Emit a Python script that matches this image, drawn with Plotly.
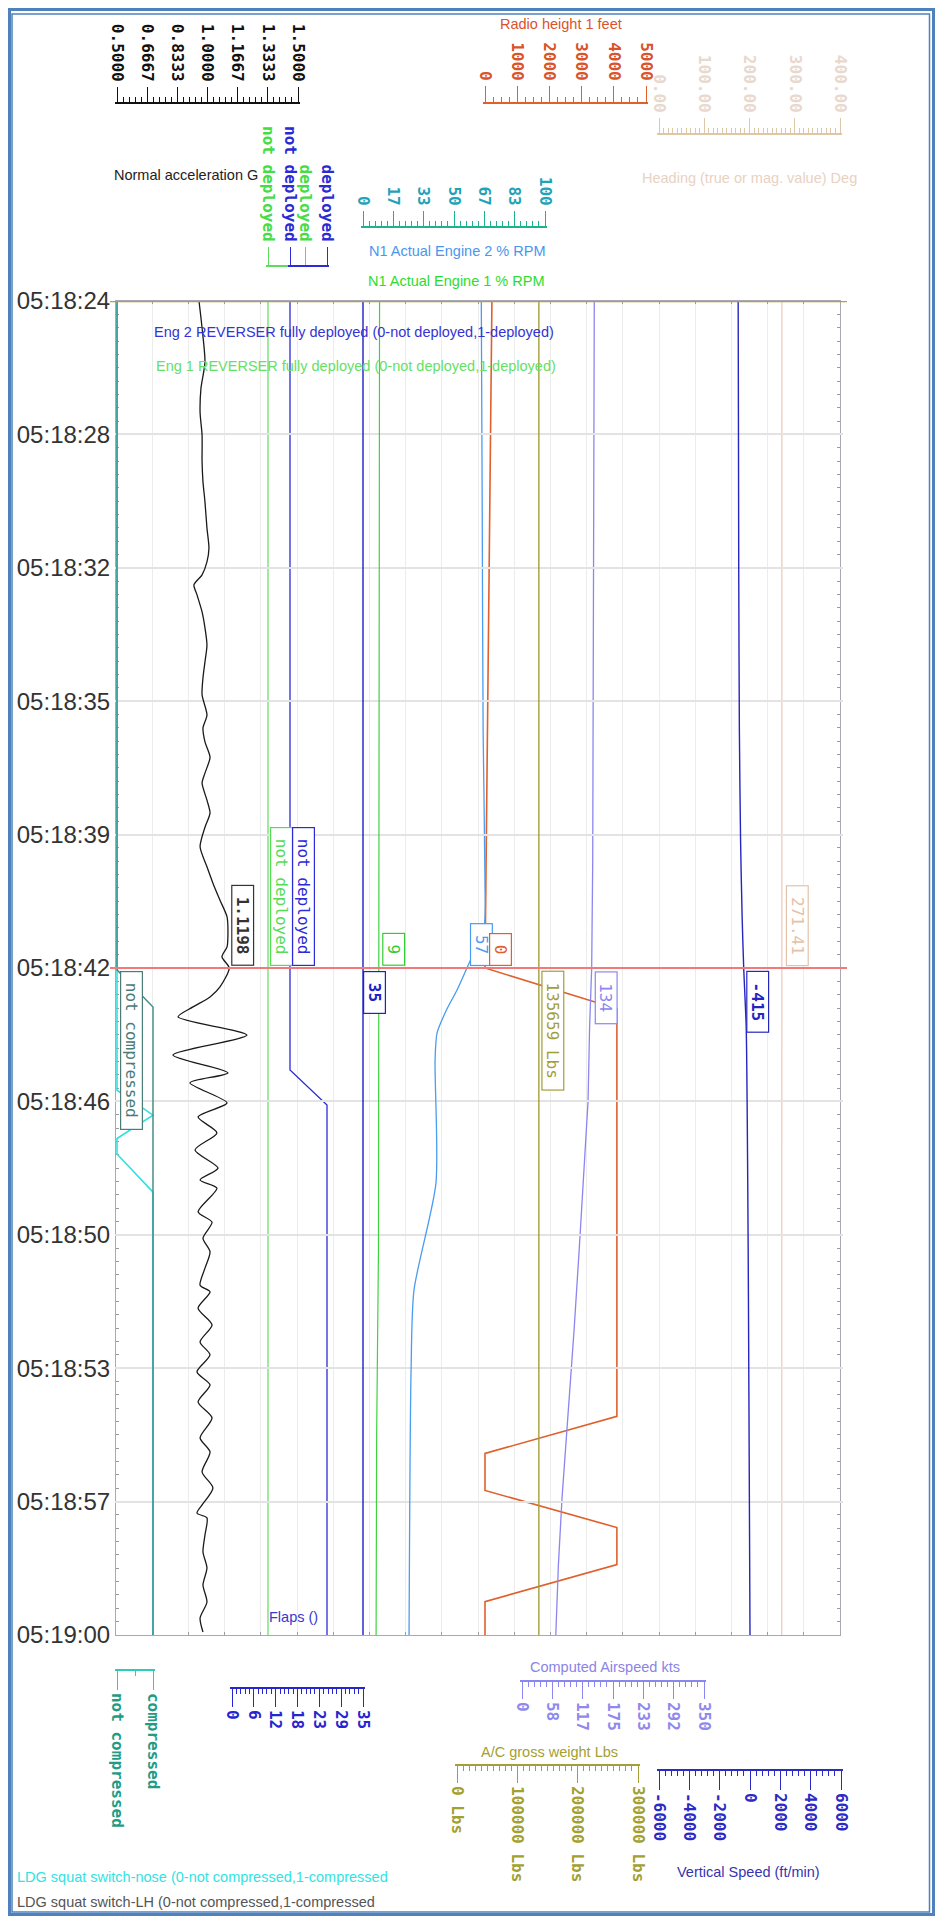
import numpy as np
import plotly.graph_objects as go

# page body keeps its 8px margin, so the figure is sized to fit the window exactly
OFF = 8
FW, FH = 943 - 2 * OFF, 1924 - 2 * OFF


def sx(x):
    return (x - OFF) / FW


def sy(y):
    return 1 - (y - OFF) / FH


# time is in seconds after 05:18:00
time_ticks = [24.4, 28.0, 31.6, 35.2, 38.8, 42.4, 46.0, 49.6, 53.2, 56.8, 60.4]
time_labels = ["05:18:24", "05:18:28", "05:18:32", "05:18:35", "05:18:39", "05:18:42",
               "05:18:46", "05:18:50", "05:18:53", "05:18:57", "05:19:00"]
cursor_times = [24.4, 42.4]

# Normal acceleration G
g_t = [24.40, 25.13, 26.05, 26.75, 27.40, 28.02, 28.74, 29.28, 29.82, 30.53, 31.07, 31.44,
       31.79, 32.06, 32.33, 32.79, 33.22, 33.68, 34.14, 34.57, 35.03, 35.57, 35.92, 36.30,
       36.71, 37.14, 37.41, 37.87, 38.22, 38.60, 39.13, 39.67, 40.11, 40.57, 41.02, 41.46,
       41.83, 42.10, 42.40, 42.91, 43.18, 43.45, 43.72, 44.21, 44.75, 45.23, 45.50, 46.04,
       46.42, 46.85, 47.31, 47.80, 48.12, 48.34, 48.98, 49.26, 49.69, 50.06, 50.50, 50.96,
       51.14, 51.58, 52.03, 52.49, 52.84, 53.30, 53.65, 54.11, 54.54, 55.08, 55.46, 56.00,
       56.43, 56.89, 57.11, 57.24, 57.70, 58.16, 58.59, 59.05, 59.51, 59.94, 60.32]
g_val = [0.953, 0.970, 0.986, 0.964, 0.959, 0.970, 0.970, 0.975, 0.986, 0.997, 1.008, 0.997,
         0.970, 0.925, 0.942, 0.970, 0.986, 0.997, 0.986, 0.975, 0.970, 0.997, 0.975, 0.986,
         1.014, 0.986, 0.970, 0.997, 1.014, 0.986, 0.959, 0.997, 1.030, 1.069, 1.108, 1.113,
         1.108, 1.080, 1.1198, 1.069, 1.014, 0.920, 0.837, 1.218, 0.809, 1.113, 0.903, 1.108,
         0.948, 1.052, 0.931, 1.058, 0.959, 1.052, 0.948, 1.025, 0.975, 1.014, 0.986, 0.959,
         1.014, 0.948, 1.025, 0.959, 1.014, 0.942, 1.014, 0.948, 1.025, 0.959, 1.014, 0.970,
         1.030, 0.970, 0.942, 0.997, 0.986, 0.975, 0.997, 0.975, 0.997, 0.959, 0.975]

# Radio height 1 (ft)
ra_t = [24.4, 27.0, 30.0, 33.0, 36.0, 39.0, 41.0, 42.4, 43.5, 54.5, 55.5, 56.5, 57.5, 58.5, 59.5, 60.4]
ra_val = [215, 185, 150, 115, 80, 40, 15, 0, 4096, 4096, 0, 0, 4096, 4096, 0, 0]

# Heading (deg)
hdg_t = [24.4, 42.4, 60.4]
hdg_val = [271.6, 271.41, 271.3]

# N1 engines (%)
n1e2_t = [24.4, 30.0, 36.0, 40.0, 41.3, 42.4, 43.0, 43.5, 44.15, 44.9, 48.2, 51.1, 53.3, 60.4]
n1e2_val = [65.0, 65.5, 66.0, 67.0, 66.5, 57.1, 51.6, 46.2, 40.7, 39.6, 40.1, 28.0, 26.4, 25.3]
n1e1_t = [24.4, 42.4, 50.0, 55.0, 60.4]
n1e1_val = [9.1, 8.9, 8.5, 7.5, 7.2]

# Reversers (0 not deployed, 1 deployed)
rev1_t = [24.4, 60.4]
rev1_val = [0, 0]
rev2_t = [24.4, 45.15, 46.1, 60.4]
rev2_val = [0, 0, 1, 1]

# Flaps
flaps_t = [24.4, 60.4]
flaps_val = [35, 35]

# Computed airspeed (kts)
cas_t = [24.4, 33.0, 39.5, 42.4, 44.0, 46.0, 48.0, 50.0, 52.2, 54.5, 56.7, 58.5, 60.4]
cas_val = [139, 138, 136, 134, 130, 127, 119, 110, 100, 88, 77, 70, 65]

# Gross weight (lbs)
gw_t = [24.4, 60.4]
gw_val = [135659, 135659]

# Vertical speed (ft/min)
vs_t = [24.4, 28.0, 32.0, 36.0, 39.0, 41.0, 42.4, 44.0, 46.0, 50.0, 55.0, 60.4]
vs_val = [-780, -760, -740, -700, -620, -520, -415, -250, -190, -120, -60, 0]

# Landing gear squat switches (0 not compressed, 1 compressed)
lh_t = [24.4, 42.45, 43.45, 60.4]
lh_val = [0, 0, 1, 1]
nose_t = [24.4, 45.7, 46.37, 47.0, 47.42, 48.45, 60.4]
nose_val = [0, 0, 1, 0, 0, 1, 1]

# scale tick labels
g_ticks = ["0.5000", "0.6667", "0.8333", "1.0000", "1.1667", "1.3333", "1.5000"]
ra_ticks = ["0", "1000", "2000", "3000", "4000", "5000"]
hdg_ticks = ["0.00", "100.00", "200.00", "300.00", "400.00"]
n1_ticks = ["0", "17", "33", "50", "67", "83", "100"]
rev_ticks = ["not deployed", "deployed"]
flaps_ticks = ["0", "6", "12", "18", "23", "29", "35"]
cas_ticks = ["0", "58", "117", "175", "233", "292", "350"]
gw_ticks = ["0 Lbs", "100000 Lbs", "200000 Lbs", "300000 Lbs"]
vs_ticks = ["-6000", "-4000", "-2000", "0", "2000", "4000", "6000"]
ldg_ticks = ["not compressed", "compressed"]

MONO = "DejaVu Sans Mono"
SANS = "Liberation Sans"


def scale(x0, x1, y, lo, hi, ticks, side, line_c, text_c, minor_n, ticklen=15):
    # ruler-like axis covering pixels x0..x1 with its base line at pixel row y
    pad = 2
    k = (hi - lo) / (x1 - x0)
    step = (hi - lo) / (len(ticks) - 1)
    ax = dict(
        domain=[sx(x0 - pad), sx(x1 + pad)],
        range=[lo - pad * k, hi + pad * k],
        anchor="free", position=sy(y), side=side,
        showgrid=False, zeroline=False, fixedrange=True,
        showline=True, linecolor=line_c, linewidth=1.5,
        ticks="outside", ticklen=ticklen, tickwidth=1, tickcolor=line_c,
        tickmode="array", tickvals=list(np.linspace(lo, hi, len(ticks))), ticktext=ticks,
        tickangle=90, tickfont=dict(family=MONO, size=16, color=text_c, weight="bold"),
    )
    if minor_n:
        ax["minor"] = dict(ticks="outside", ticklen=5, tickcolor=line_c,
                           tick0=lo, dtick=step / minor_n, showgrid=False)
    return ax


fig = go.Figure()


def add_line(t, v, axis, color, width=1.3, shape="linear"):
    fig.add_trace(go.Scatter(x=v, y=t, xaxis=axis, yaxis="y", mode="lines",
                             line=dict(color=color, width=width, shape=shape, smoothing=0.7),
                             hoverinfo="skip", showlegend=False))


C_G = "#1a1a1a"
C_RA = "#e0602c"
C_HDG = "#ecc9b9"
C_N1E2 = "#4a9cf0"
C_N1E1 = "#3fd23f"
C_REV1 = "#5edc5e"
C_REV2 = "#2b2bd8"
C_FLAPS = "#1f1fc6"
C_CAS = "#8c86f0"
C_GW = "#a39e3a"
C_VS = "#2525bf"
C_NOSE = "#33e0e0"
C_LH = "#3f8c86"

add_line(hdg_t, hdg_val, "x4", C_HDG, 1.2)
add_line(gw_t, gw_val, "x10", C_GW, 1.4)
add_line(rev1_t, rev1_val, "x6", C_REV1, 1.2)
add_line(n1e1_t, n1e1_val, "x5", C_N1E1, 1.2)
add_line(n1e2_t, n1e2_val, "x5", C_N1E2, 1.3, "spline")
add_line(flaps_t, flaps_val, "x8", C_FLAPS, 1.4)
add_line(rev2_t, rev2_val, "x7", C_REV2, 1.3)
add_line(cas_t, cas_val, "x9", C_CAS, 1.3)
add_line(vs_t, vs_val, "x11", C_VS, 1.4, "spline")
add_line(ra_t, ra_val, "x3", C_RA, 1.6)
add_line(nose_t, nose_val, "x12", C_NOSE, 1.6)
add_line(lh_t, lh_val, "x12", C_LH, 1.4)
add_line(g_t, g_val, "x2", C_G, 1.3, "spline")

# cursor end markers
for ct, col in zip(cursor_times, ["#b3a23c", "#f27a7a"]):
    fig.add_trace(go.Scatter(x=[-0.18, 20.18], y=[ct, ct], xaxis="x", yaxis="y", mode="markers",
                             marker=dict(symbol=["triangle-right", "triangle-left"], size=8, color=col),
                             cliponaxis=False, hoverinfo="skip", showlegend=False))

layout_axes = dict(
    xaxis=dict(domain=[sx(116), sx(840)], range=[0, 20], dtick=1, showgrid=True, gridcolor="#ececec",
               showticklabels=False, ticks="inside", ticklen=3, tickcolor="#9a9aa6",
               showline=True, linecolor="#a9a9b6", mirror="ticks", zeroline=False, fixedrange=True),
    yaxis=dict(domain=[sy(1635), sy(301)], range=[60.4, 24.4], anchor="x",
               tickmode="array", tickvals=time_ticks, ticktext=time_labels,
               tickfont=dict(family=SANS, size=24, color="#333333"),
               showgrid=True, gridcolor="#e3e3e3", gridwidth=1.5,
               ticks="inside", ticklen=3, tickcolor="#999999",
               minor=dict(ticks="inside", ticklen=3, tick0=24.4, dtick=0.36, tickcolor="#999999"),
               showline=True, linecolor="#a9a9b6", mirror="ticks", zeroline=False, fixedrange=True),
    xaxis2=scale(117, 298, 103, 0.5, 1.5, g_ticks, "top", "#111111", "#111111", 5),
    xaxis3=scale(485, 646, 103, 0, 5000, ra_ticks, "top", C_RA, "#d9532b", 4, 16),
    xaxis4=scale(659, 840, 134, 0, 400, hdg_ticks, "top", "#dcc7a6", "#e8d8cd", 10),
    xaxis5=scale(363, 545, 227, 0, 100, n1_ticks, "top", "#1db38e", "#1fa3b8", 5),
    xaxis6=scale(268, 305, 266, 0, 1, rev_ticks, "top", C_REV1, "#44dd44", 0, 18),
    xaxis7=scale(290, 327, 266, 0, 1, rev_ticks, "top", C_REV2, "#2b2bd6", 0, 18),
    xaxis8=scale(232, 363, 1688, 0, 35, flaps_ticks, "bottom", "#2626d0", "#2626d0", 5, 18),
    xaxis9=scale(522, 704, 1681, 0, 350, cas_ticks, "bottom", C_CAS, "#8f89ee", 5, 17),
    xaxis10=scale(457, 638, 1765, 0, 300000, gw_ticks, "bottom", C_GW, "#a3a032", 10, 17),
    xaxis11=scale(659, 841, 1770, -6000, 6000, vs_ticks, "bottom", "#2a2ac4", "#2a2ac4", 5, 19),
    xaxis12=scale(117, 153, 1670, 0, 1, ldg_ticks, "bottom", "#2bcdb4", "#1f9c86", 2, 19),
)


def value_box(axis, v, text, color, above, bold=False, shift=3):
    return dict(xref=axis, yref="y", x=v, y=cursor_times[1], text="\u00a0" + text + "\u00a0",
                textangle=90, showarrow=False, xanchor="left",
                yanchor="bottom" if above else "top", xshift=shift, yshift=2 if above else -3,
                bgcolor="white", bordercolor=color, borderwidth=1.2, borderpad=1,
                font=dict(family=MONO, size=16, color=color, weight="bold" if bold else "normal"))


def at_cursor(t, v):
    return float(np.interp(cursor_times[1], t, v))


annotations = [
    value_box("x12", at_cursor(lh_t, lh_val), ldg_ticks[int(round(at_cursor(lh_t, lh_val)))], "#4a7c78", False),
    value_box("x2", at_cursor(g_t, g_val), f"{at_cursor(g_t, g_val):.4f}", "#333333", True, True, 2),
    value_box("x6", at_cursor(rev1_t, rev1_val), rev_ticks[int(round(at_cursor(rev1_t, rev1_val)))], "#55dd55", True, shift=2),
    value_box("x7", at_cursor(rev2_t, rev2_val), rev_ticks[int(round(at_cursor(rev2_t, rev2_val)))], "#2b2bd8", True, shift=2),
    value_box("x8", at_cursor(flaps_t, flaps_val), f"{at_cursor(flaps_t, flaps_val):.0f}", "#2020c8", False, True, 0),
    value_box("x5", at_cursor(n1e1_t, n1e1_val), f"{at_cursor(n1e1_t, n1e1_val):.0f}", "#33cc33", True),
    value_box("x5", at_cursor(n1e2_t, n1e2_val), f"{at_cursor(n1e2_t, n1e2_val):.0f}", C_N1E2, True),
    value_box("x3", at_cursor(ra_t, ra_val), f"{at_cursor(ra_t, ra_val):.0f}", C_RA, True, shift=4),
    value_box("x10", at_cursor(gw_t, gw_val), f"{at_cursor(gw_t, gw_val):.0f} Lbs", C_GW, False),
    value_box("x9", at_cursor(cas_t, cas_val), f"{at_cursor(cas_t, cas_val):.0f}", C_CAS, False),
    value_box("x11", at_cursor(vs_t, vs_val), f"{at_cursor(vs_t, vs_val):.0f}", C_VS, False, True),
    value_box("x4", at_cursor(hdg_t, hdg_val), f"{at_cursor(hdg_t, hdg_val):.2f}", "#e3c2a8", True, shift=4),
]

titles = [
    ("Radio height 1 feet", 498, 24, "#d9532c"),
    ("Normal acceleration G", 112, 175, "#222222"),
    ("Heading (true or mag. value) Deg", 640, 178, "#e8d2c2"),
    ("N1 Actual Engine 2 % RPM", 367, 251, "#4a96ee"),
    ("N1 Actual Engine 1 % RPM", 366, 281, "#2edc2e"),
    ("Eng 2 REVERSER fully deployed (0-not deployed,1-deployed)", 152, 332, "#3434d2"),
    ("Eng 1 REVERSER fully deployed (0-not deployed,1-deployed)", 154, 366, "#66e066"),
    ("Flaps ()", 267, 1617, "#3838d0"),
    ("Computed Airspeed kts", 528, 1667, "#8a84e8"),
    ("A/C gross weight Lbs", 479, 1752, "#a3a030"),
    ("Vertical Speed (ft/min)", 675, 1872, "#3535b0"),
    ("LDG squat switch-nose (0-not compressed,1-compressed", 15, 1877, "#33e2e2"),
    ("LDG squat switch-LH (0-not compressed,1-compressed", 15, 1902, "#555555"),
]
for txt, x, y, col in titles:
    annotations.append(dict(xref="paper", yref="paper", x=sx(x), y=sy(y), text=txt,
                            showarrow=False, xanchor="left", yanchor="middle",
                            font=dict(family=SANS, size=14.5, color=col)))

shapes = []
for ct, col, wd in zip(cursor_times, ["#b3a23c", "#f27a7a"], [2.5, 2]):
    shapes.append(dict(type="line", xref="paper", yref="y", x0=sx(110), x1=sx(847), y0=ct, y1=ct,
                       line=dict(color=col, width=wd)))
# picture frame
shapes.append(dict(type="rect", xref="paper", yref="paper", x0=sx(9.5), x1=sx(933.5),
                   y0=sy(1914.5), y1=sy(9.5), line=dict(color="#4f81bd", width=3)))
shapes.append(dict(type="rect", xref="paper", yref="paper", x0=sx(12), x1=sx(929.5),
                   y0=sy(1912), y1=sy(14), line=dict(color="#4f81bd", width=1.5)))

fig.update_layout(
    width=FW, height=FH, margin=dict(l=0, r=0, t=0, b=0, autoexpand=False),
    paper_bgcolor="white", plot_bgcolor="rgba(0,0,0,0)",
    showlegend=False, font=dict(family=SANS),
    annotations=annotations, shapes=shapes,
    **layout_axes,
)

fig.write_html("out.html")
